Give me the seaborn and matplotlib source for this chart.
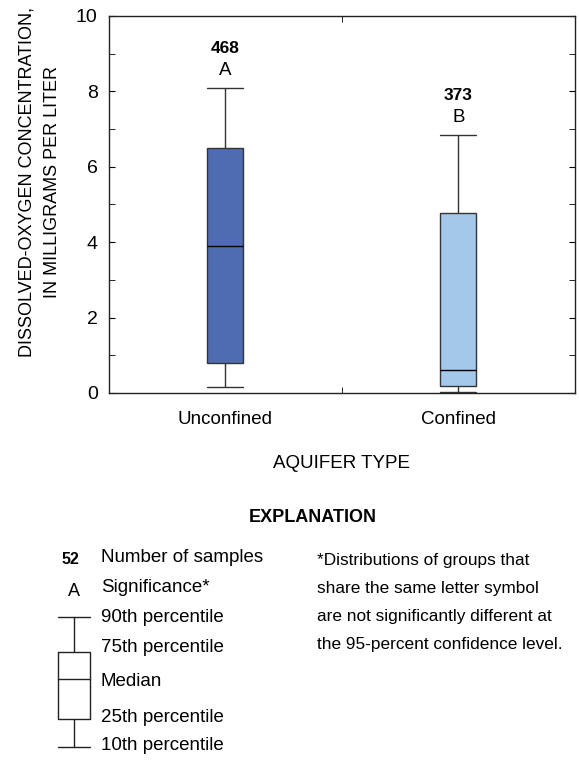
import numpy as np
import pandas as pd
import matplotlib
matplotlib.use("Agg")
import matplotlib.pyplot as plt
from matplotlib.ticker import MultipleLocator
import seaborn as sns

# values (mg/L)
aquifer = ["Unconfined", "Confined"]
p10 = [0.15, 0.02]
p25 = [0.80, 0.19]
p50 = [3.90, 0.61]
p75 = [6.50, 4.78]
p90 = [8.10, 6.85]
n_samples = ["468", "373"]
letters = ["A", "B"]
colors = ["#4f6bb2", "#a3c8ea"]

# five summary values per group -> whis=(0,100) gives exact box stats
rows = []
for i, a in enumerate(aquifer):
    for v in [p10[i], p25[i], p50[i], p75[i], p90[i]]:
        rows.append({"type": a, "do": v})
df = pd.DataFrame(rows)

sns.set_style("ticks")
plt.rcParams["font.family"] = ["Liberation Sans", "DejaVu Sans"]
plt.rcParams["text.color"] = "black"
plt.rcParams["xtick.color"] = "black"
plt.rcParams["ytick.color"] = "black"
plt.rcParams["axes.labelcolor"] = "black"

fig = plt.figure(figsize=(5.79, 7.61), dpi=100)
ax = fig.add_axes([0.188, 0.4836, 0.805, 0.4954])

sns.boxplot(data=df, x="type", y="do", hue="type", palette=colors,
            whis=(0, 100), width=0.155, linewidth=1, linecolor="#333333",
            showfliers=False, legend=False, ax=ax, capwidths=0.155,
            medianprops=dict(color="black"), saturation=1)

ax.set_xlim(-0.5, 1.5)
ax.set_ylim(0, 10)
ax.yaxis.set_major_locator(MultipleLocator(2))
ax.yaxis.set_minor_locator(MultipleLocator(1))
ax.set_xticks([0, 1])
ax.set_xticklabels(aquifer)
ax.set_xticks([0.5], minor=True)
ax.tick_params(axis="x", which="major", length=0, pad=13, labelsize=13.5)
ax.tick_params(axis="x", which="minor", direction="in", length=4.3, top=True, bottom=True)
ax.tick_params(axis="y", which="both", direction="in", length=4.3, right=True,
               labelsize=14, pad=8)
for s in ax.spines.values():
    s.set_visible(True)
    s.set_color("#222222")
    s.set_linewidth(1)

ax.set_ylabel("DISSOLVED-OXYGEN CONCENTRATION,\nIN MILLIGRAMS PER LITER",
              fontsize=13, linespacing=1.6)
ax.yaxis.set_label_coords(-0.148, 0.56)
ax.yaxis.label.set_va("center")
ax.set_xlabel("AQUIFER TYPE", fontsize=13.5)
ax.xaxis.set_label_coords(0.5, -0.186)
ax.xaxis.label.set_va("center")

for i in range(len(aquifer)):
    ax.annotate(n_samples[i], xy=(i, p90[i]), xytext=(0, 28.5), textcoords="offset points",
                ha="center", va="center", fontsize=12.5, fontweight="bold")
    ax.annotate(letters[i], xy=(i, p90[i]), xytext=(0, 12.5), textcoords="offset points",
                ha="center", va="center", fontsize=13.5)

# explanation block (pixel coordinates)
lg = fig.add_axes([0, 0, 1, 1])
lg.set_xlim(0, 579)
lg.set_ylim(761, 0)
lg.axis("off")
lg.text(313, 518, "EXPLANATION", ha="center", va="center", fontsize=13, fontweight="bold")
lg.text(70, 560, "52", ha="center", va="center", fontsize=11.5, fontweight="bold")
lg.text(74, 592, "A", ha="center", va="center", fontsize=13)
labels = ["Number of samples", "Significance*", "90th percentile", "75th percentile",
          "Median", "25th percentile", "10th percentile"]
ys = [558, 587, 617, 647, 682, 717, 746]
for lab, y in zip(labels, ys):
    lg.text(101, y, lab, ha="left", va="center", fontsize=13.5)
kw = dict(color="#222222", lw=1)
lg.plot([58, 90], [617, 617], **kw)
lg.plot([74, 74], [617, 652], **kw)
lg.plot([74, 74], [719, 747], **kw)
lg.plot([58, 90], [747, 747], **kw)
lg.plot([58, 90, 90, 58, 58], [652, 652, 719, 719, 652], **kw)
lg.plot([58, 90], [679, 679], **kw)
note = ["*Distributions of groups that", "share the same letter symbol",
        "are not significantly different at", "the 95-percent confidence level."]
for k, t in enumerate(note):
    lg.text(317, 560 + 28 * k, t, ha="left", va="center", fontsize=12.4)

fig.savefig("out.png", dpi=100)
